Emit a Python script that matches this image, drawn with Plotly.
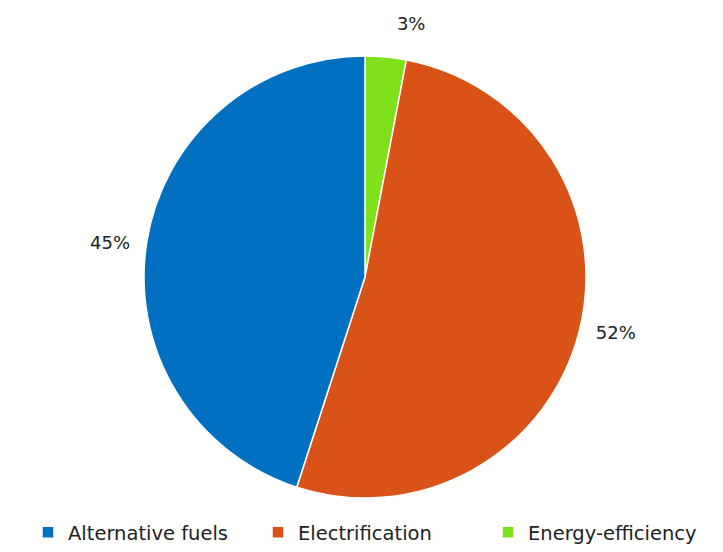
import plotly.graph_objects as go

labels = ["Energy-efficiency", "Electrification", "Alternative fuels"]
values = [3, 52, 45]
colors = ["#7FE01C", "#D95318", "#0170C0"]

# page has an 8px body margin; figure sized to fill the remaining window
W, H = 715, 544
cx, cy, r = 357, 269, 221

NB = "\u00a0"
label_templates = [
    "%{percent:.0%}<br>" + NB,
    NB * 2 + "%{percent:.0%}",
    "%{percent:.0%}" + NB * 2,
]

fig = go.Figure(go.Pie(
    labels=labels,
    values=values,
    sort=False,
    direction="clockwise",
    rotation=0,
    marker=dict(colors=colors, line=dict(color="white", width=1.5)),
    textinfo="percent",
    texttemplate=label_templates,
    textposition="outside",
    textfont=dict(family="DejaVu Sans", size=18, color="#222222"),
    domain=dict(x=[(cx - r) / W, (cx + r) / W], y=[(H - cy - r) / H, (H - cy + r) / H]),
    automargin=False,
    showlegend=True,
))

fig.update_layout(
    width=W, height=H,
    margin=dict(l=0, r=0, t=0, b=0),
    paper_bgcolor="white",
    plot_bgcolor="white",
    font=dict(family="DejaVu Sans", size=18, color="#222222"),
    legend=dict(
        orientation="h",
        x=20 / W, xanchor="left",
        y=0, yanchor="bottom",
        font=dict(family="DejaVu Sans", size=19.5, color="#222222"),
        entrywidth=185, entrywidthmode="pixels",
        traceorder="reversed",
    ),
)

fig.write_html("out.html")
